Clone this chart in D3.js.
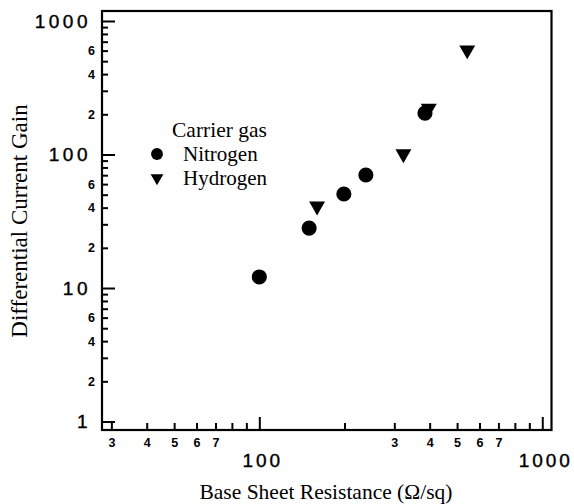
<!DOCTYPE html>
<html>
<head>
<meta charset="utf-8">
<script src="https://cdn.jsdelivr.net/npm/d3@7"></script>
<style>
  body { margin: 0; background: #fff; }
  svg { display: block; }
  .serif { font-family: "Liberation Serif", "Times New Roman", serif; fill: #000; }
  .tick text { font-family: "Liberation Sans", Arial, sans-serif; fill: #000; }
</style>
</head>
<body>
<div id="chart"></div>
<script>
// sheet resistance (ohm/sq) and differential current gain
let nitrogenR = [100, 150, 199, 238, 385];
let nitrogenGain = [12.1, 28.1, 50.6, 70.2, 204];
let hydrogenR = [160, 323, 397, 543];
let hydrogenGain = [41, 101, 222, 606];

let xMajor = [100, 1000];
let xMinor = [30, 40, 50, 60, 70, 80, 90, 200, 300, 400, 500, 600, 700, 800, 900];
let xMinorLabeled = [3, 4, 5, 6, 7];
let yMajor = [1, 10, 100, 1000];
let yMinor = [2, 3, 4, 5, 6, 7, 8, 9, 20, 30, 40, 50, 60, 70, 80, 90, 200, 300, 400, 500, 600, 700, 800, 900];
let yMinorLabeled = [2, 4, 6];

let width = 574, height = 504;
let plotLeft = 102, plotRight = 551.5, plotTop = 11, plotBottom = 430;

let svg = d3.select('#chart').append('svg')
  .attr('width', width)
  .attr('height', height);

let x = d3.scaleLog().domain([27.8, 1078]).range([plotLeft, plotRight]);
let y = d3.scaleLog().domain([0.864, 1188]).range([plotBottom, plotTop]);

// leading digit of a tick value
function lead(d) {
  return Math.round(d / Math.pow(10, Math.floor(Math.log10(d) + 1e-9)));
}

// x axis: minor ticks with small digit labels
let xMinorAxis = d3.axisBottom(x)
  .tickValues(xMinor)
  .tickSize(-7)
  .tickPadding(8)
  .tickFormat(d => xMinorLabeled.indexOf(lead(d)) >= 0 ? lead(d) : '');

let gx = svg.append('g')
  .attr('transform', 'translate(0,' + plotBottom + ')')
  .call(xMinorAxis);
gx.selectAll('.tick text')
  .style('font-size', '12.5px')
  .style('font-weight', 'bold');

let xMajorAxis = d3.axisBottom(x)
  .tickValues(xMajor)
  .tickSize(-13)
  .tickPadding(24)
  .tickFormat(d3.format('d'));

let gx2 = svg.append('g')
  .attr('transform', 'translate(0,' + plotBottom + ')')
  .call(xMajorAxis);
gx2.selectAll('.tick text')
  .style('font-size', '19px')
  .style('letter-spacing', '3px')
  .style('stroke', '#000')
  .style('stroke-width', '0.4px')
  .attr('dx', 3);

// y axis
let yMinorAxis = d3.axisLeft(y)
  .tickValues(yMinor)
  .tickSize(-6)
  .tickPadding(7)
  .tickFormat(d => yMinorLabeled.indexOf(lead(d)) >= 0 ? lead(d) : '');

let gy = svg.append('g')
  .attr('transform', 'translate(' + plotLeft + ',0)')
  .call(yMinorAxis);
gy.selectAll('.tick text')
  .style('font-size', '12.5px')
  .style('font-weight', 'bold');

let yMajorAxis = d3.axisLeft(y)
  .tickValues(yMajor)
  .tickSize(-13)
  .tickPadding(11)
  .tickFormat(d3.format('d'));

let gy2 = svg.append('g')
  .attr('transform', 'translate(' + plotLeft + ',0)')
  .call(yMajorAxis);
gy2.selectAll('.tick text')
  .style('font-size', '19px')
  .style('letter-spacing', '3.5px')
  .style('stroke', '#000')
  .style('stroke-width', '0.4px');

svg.selectAll('.domain').remove();
svg.selectAll('.tick line').attr('stroke', '#000').attr('stroke-width', 2);

// frame
svg.append('rect')
  .attr('x', plotLeft)
  .attr('y', plotTop)
  .attr('width', plotRight - plotLeft)
  .attr('height', plotBottom - plotTop)
  .attr('fill', 'none')
  .attr('stroke', '#000')
  .attr('stroke-width', 2.2);

// data
let circle = d3.symbol().type(d3.symbolCircle).size(180);
let tri = d3.symbol().type(d3.symbolTriangle).size(110);

svg.append('g').selectAll('path')
  .data(nitrogenR)
  .enter().append('path')
  .attr('d', circle)
  .attr('transform', (d, i) => 'translate(' + x(d) + ',' + y(nitrogenGain[i]) + ')')
  .attr('fill', '#000');

svg.append('g').selectAll('path')
  .data(hydrogenR)
  .enter().append('path')
  .attr('d', tri)
  .attr('transform', (d, i) => 'translate(' + x(d) + ',' + y(hydrogenGain[i]) + ') rotate(180)')
  .attr('fill', '#000');

// legend
let legend = svg.append('g');
legend.append('text')
  .attr('class', 'serif')
  .attr('x', 172)
  .attr('y', 137)
  .style('font-size', '21.5px')
  .text('Carrier gas');

legend.append('path')
  .attr('d', d3.symbol().type(d3.symbolCircle).size(110))
  .attr('transform', 'translate(157,154)');
legend.append('text')
  .attr('class', 'serif')
  .attr('x', 183)
  .attr('y', 161)
  .style('font-size', '21px')
  .text('Nitrogen');

legend.append('path')
  .attr('d', d3.symbol().type(d3.symbolTriangle).size(70))
  .attr('transform', 'translate(157,178) rotate(180)');
legend.append('text')
  .attr('class', 'serif')
  .attr('x', 183)
  .attr('y', 184.5)
  .style('font-size', '21px')
  .text('Hydrogen');

// axis titles
svg.append('text')
  .attr('class', 'serif')
  .attr('x', 326)
  .attr('y', 499)
  .attr('text-anchor', 'middle')
  .style('font-size', '21.5px')
  .text('Base Sheet Resistance (\u03A9/sq)');

svg.append('text')
  .attr('class', 'serif')
  .attr('transform', 'translate(27,221) rotate(-90)')
  .attr('text-anchor', 'middle')
  .style('font-size', '23px')
  .text('Differential Current Gain');
</script>
</body>
</html>
